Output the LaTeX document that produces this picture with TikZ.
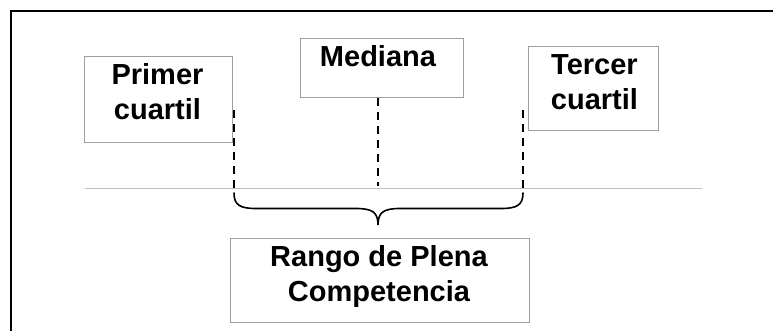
\documentclass[tikz,border=0pt]{standalone}
\usepackage{fontspec}
\setmainfont{Liberation Sans}
\begin{document}
\begin{tikzpicture}[x=1pt,y=-1pt,
  box/.style={draw=black!38, line width=1pt, inner sep=0pt, anchor=north west},
  lbl/.style={font=\fontsize{29}{35}\selectfont\bfseries, align=center, inner sep=0pt},
  frameline/.style={line width=2.3pt},
  dashline/.style={line width=1.8pt, dash pattern=on 8pt off 6pt},
  baseline/.style={draw=black!25, line width=1pt},
  bracket/.style={line width=1.6pt, line cap=round}]
\useasboundingbox (0,0) rectangle (773,331);
% outer frame (left and top only)
\draw[frameline] (11,331) -- (11,11) -- (773,11);
% boxes
\node[box, minimum width=148, minimum height=86] (pbox) at (84,56) {};
\node[box, minimum width=163, minimum height=59] (mbox) at (300,38) {};
\node[box, minimum width=130, minimum height=84] (tbox) at (528,46) {};
\node[box, minimum width=299, minimum height=84] (rbox) at (230,238) {};
% texts
\node[lbl] (ptxt) at (157.5,92) {Primer\\cuartil};
\node[lbl] (mtxt) at (378,56.5) {Mediana};
\node[lbl] (ttxt) at (594.5,82) {Tercer\\cuartil};
\node[lbl] (rtxt) at (379,277) {Rango de Plena\\Competencia};
% horizontal line
\coordinate (hl) at (85,189);
\coordinate (hr) at (702,189);
\draw[baseline] (hl) -- (hr);
% dashed markers
\coordinate (q1top) at (234,110);
\coordinate (q1bot) at (234,193);
\coordinate (q3top) at (523,110);
\coordinate (q3bot) at (523,193);
\coordinate (mdbot) at (378,186);
\draw[dashline] (q1top) -- (q1bot);
\draw[dashline] (mbox.south -| mtxt) -- (mdbot);
\draw[dashline] (q3top) -- (q3bot);
% brace
\coordinate (tip) at (378,225);
\draw[bracket] (q1bot) .. controls (234,205) and (240,208.5) .. (256,208.5)
  -- (356,208.5) .. controls (372,208.5) and (378,212) .. (tip)
  .. controls (378,212) and (384,208.5) .. (400,208.5)
  -- (501,208.5) .. controls (517,208.5) and (523,205) .. (q3bot);
\end{tikzpicture}
\end{document}
